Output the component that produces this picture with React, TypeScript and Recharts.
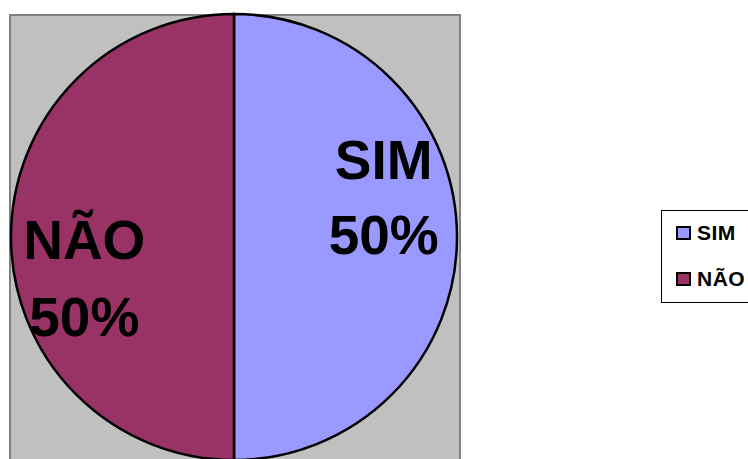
import React from "react";
import { PieChart, Pie, Cell, Legend } from "recharts";

const categories = ["SIM", "NÃO"];
const values = [50, 50];
const percentLabels = ["50%", "50%"];
const colors = ["#9999FF", "#993366"];

const data = categories.map((name, i) => ({
  name,
  value: values[i],
  pct: percentLabels[i],
}));

const RADIAN = Math.PI / 180;
const FONT = "'Liberation Sans', Arial, sans-serif";

function renderLabel(props: any) {
  const { cx, cy, midAngle, outerRadius, index } = props;
  // Excel pushes the labels a bit off the slice's mid line
  const angle = (midAngle + 15) * RADIAN;
  const r = outerRadius * 0.695;
  const x = cx + r * Math.cos(angle);
  const y = cy - r * Math.sin(angle);
  const gap = index === 0 ? 75 : 77;
  return (
    <text
      x={x}
      y={y}
      textAnchor="middle"
      fill="#000"
      fontFamily={FONT}
      fontWeight={700}
      fontSize={55}
    >
      <tspan x={x} y={y - gap / 2 + 20}>
        {categories[index]}
      </tspan>
      <tspan x={x} y={y + gap / 2 + 20}>
        {percentLabels[index]}
      </tspan>
    </text>
  );
}

function LegendBox() {
  // keep the original order (recharts sorts the payload by name)
  return (
    <div
      style={{
        width: 95,
        height: 93,
        border: "1px solid #000",
        background: "#fff",
        boxSizing: "border-box",
        paddingTop: 12,
        fontFamily: FONT,
        fontWeight: 700,
        fontSize: 21,
      }}
    >
      {categories.map((name, i) => (
        <div
          key={name}
          style={{
            display: "flex",
            alignItems: "center",
            height: 20,
            marginBottom: 26,
            paddingLeft: 14,
          }}
        >
          <span
            style={{
              width: 11,
              height: 10,
              flexShrink: 0,
              border: "2px solid #000",
              background: colors[i],
              marginRight: 6,
              display: "inline-block",
            }}
          />
          <span style={{ color: "#000", letterSpacing: 0.5 }}>{name}</span>
        </div>
      ))}
    </div>
  );
}

export default function App() {
  return (
    <div
      style={{
        position: "absolute",
        left: 0,
        top: 0,
        width: 748,
        height: 459,
        overflow: "hidden",
        background: "#fff",
      }}
    >
      <div
        style={{
          position: "absolute",
          left: 9,
          top: 14,
          width: 452,
          height: 460,
          background: "#C0C0C0",
          border: "2px solid #808080",
          boxSizing: "border-box",
        }}
      />
      <div style={{ position: "absolute", left: 0, top: 0 }}>
        <PieChart width={748} height={459} margin={{ top: 0, right: 0, bottom: 0, left: 0 }}>
          <Pie
            data={data}
            dataKey="value"
            nameKey="name"
            cx={234}
            cy={237}
            outerRadius={223}
            startAngle={90}
            endAngle={-270}
            stroke="#000"
            strokeWidth={2.5}
            label={renderLabel}
            labelLine={false}
            isAnimationActive={false}
          >
            {data.map((d, i) => (
              <Cell key={d.name} fill={colors[i]} stroke="#000" strokeWidth={2.5} />
            ))}
          </Pie>
          <Legend
            layout="vertical"
            content={<LegendBox />}
            wrapperStyle={{ left: 661, top: 210, width: 95, bottom: "auto", right: "auto" }}
          />
        </PieChart>
      </div>
    </div>
  );
}
